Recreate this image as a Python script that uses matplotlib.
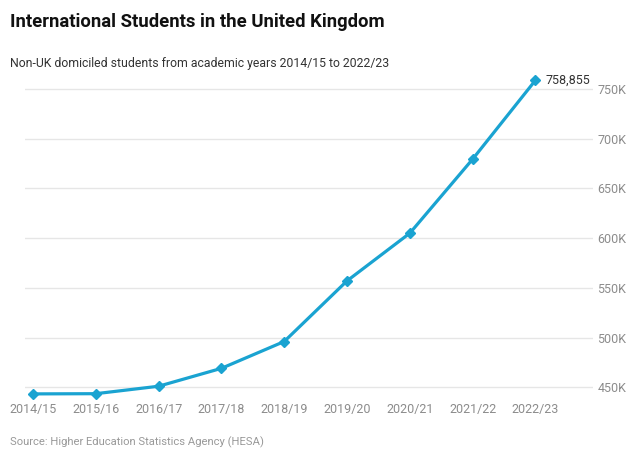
import matplotlib.pyplot as plt
from matplotlib.ticker import FuncFormatter

years = ['2014/15', '2015/16', '2016/17', '2017/18', '2018/19',
         '2019/20', '2020/21', '2021/22', '2022/23']
students = [443300, 443500, 451000, 469000, 496000,
            557000, 605000, 679500, 758855]
y_ticks = [450000, 500000, 550000, 600000, 650000, 700000, 750000]

plt.rcParams['font.family'] = ['Roboto', 'DejaVu Sans']

fig = plt.figure(figsize=(6.4, 4.59), dpi=100)
ax = fig.add_axes([0.039, 0.1347, 0.888, 0.693])

x = list(range(len(years)))
ax.plot(x, students, color='#1aa3d1', linewidth=2.3, marker='D',
        markersize=5, zorder=3, clip_on=False)

# label on last point
ax.annotate(f'{students[-1]:,}', (x[-1], students[-1]), xytext=(7, 0),
            textcoords='offset points', va='center', ha='left',
            fontsize=9, color='#333333')

ax.set_xlim(-0.127, 8.92)
ax.set_ylim(440000, 760000)
ax.set_xticks(x)
ax.set_xticklabels(years)
ax.set_yticks(y_ticks)
ax.yaxis.set_major_formatter(FuncFormatter(lambda v, p: f'{int(v / 1000)}K'))
ax.yaxis.tick_right()

ax.grid(axis='y', color='#e6e6e6', linewidth=1)
ax.set_axisbelow(True)
for s in ax.spines.values():
    s.set_visible(False)
ax.tick_params(axis='both', length=0, labelsize=9, colors='#8c8c8c')
ax.tick_params(axis='x', pad=4)
ax.tick_params(axis='y', pad=3)

fig.text(0.0156, 0.953, 'International Students in the United Kingdom',
         fontsize=13.3, fontweight='bold', color='#111111', va='center')
fig.text(0.0156, 0.862, 'Non-UK domiciled students from academic years 2014/15 to 2022/23',
         fontsize=8.8, color='#333333', va='center')
fig.text(0.0156, 0.037, 'Source: Higher Education Statistics Agency (HESA)',
         fontsize=8.15, color='#999999', va='center')

fig.savefig('out.png', dpi=100)
